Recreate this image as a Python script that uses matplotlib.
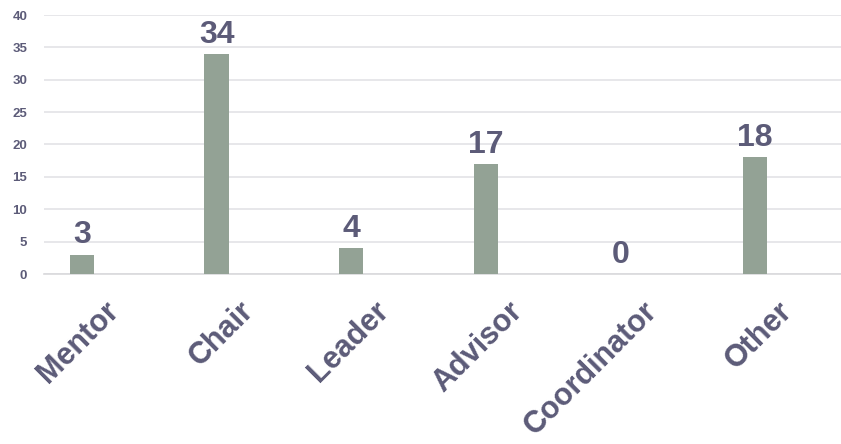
import matplotlib
matplotlib.use('Agg')
import matplotlib.pyplot as plt
import matplotlib.transforms as mtransforms

categories = ['Mentor', 'Chair', 'Leader', 'Advisor', 'Coordinator', 'Other']
counts = [3, 34, 4, 17, 0, 18]
yticks = [0, 5, 10, 15, 20, 25, 30, 35, 40]

text_color = '#5c5b78'
bar_color = '#93a295'
grid_color = '#e3e3e6'

plt.rcParams['font.family'] = ['Liberation Sans', 'DejaVu Sans']
plt.rcParams['font.weight'] = 'bold'

fig = plt.figure(figsize=(8.41, 4.44), dpi=100)
ax = fig.add_axes([44 / 841, 1 - 274 / 444, 1 - 44 / 841, (274 - 15) / 444])

x = list(range(len(categories)))
ax.bar(x, counts, width=0.18, color=bar_color, zorder=3)

# Value labels above bars
for xi, v in zip(x, counts):
    ax.annotate(str(v), (xi, v), xytext=(0, 8), textcoords='offset points',
                ha='center', va='baseline', fontsize=23, fontweight='bold',
                color=text_color, zorder=4)

ax.set_xlim(-0.282, 5.639)
ax.set_ylim(0, 40)
ax.set_yticks(yticks)
ax.yaxis.grid(True, color=grid_color, linewidth=1.2, zorder=0)
ax.tick_params(axis='y', length=0, pad=12, labelsize=9.5, labelcolor=text_color)
for lbl in ax.get_yticklabels():
    lbl.set_fontweight('bold')

ax.set_xticks(x)
ax.set_xticklabels(categories, rotation=45, ha='right', va='top',
                   rotation_mode='anchor', fontsize=22, fontweight='bold',
                   color=text_color)
ax.tick_params(axis='x', length=0, pad=0)
offset = mtransforms.ScaledTranslation(22 / 100, -22 / 100, fig.dpi_scale_trans)
for lbl in ax.get_xticklabels():
    lbl.set_transform(lbl.get_transform() + offset)

for side in ['top', 'right', 'left']:
    ax.spines[side].set_visible(False)
ax.spines['bottom'].set_color('#d9d9dc')
ax.spines['bottom'].set_linewidth(1.2)

fig.savefig('out.png', dpi=100)
plt.close(fig)
